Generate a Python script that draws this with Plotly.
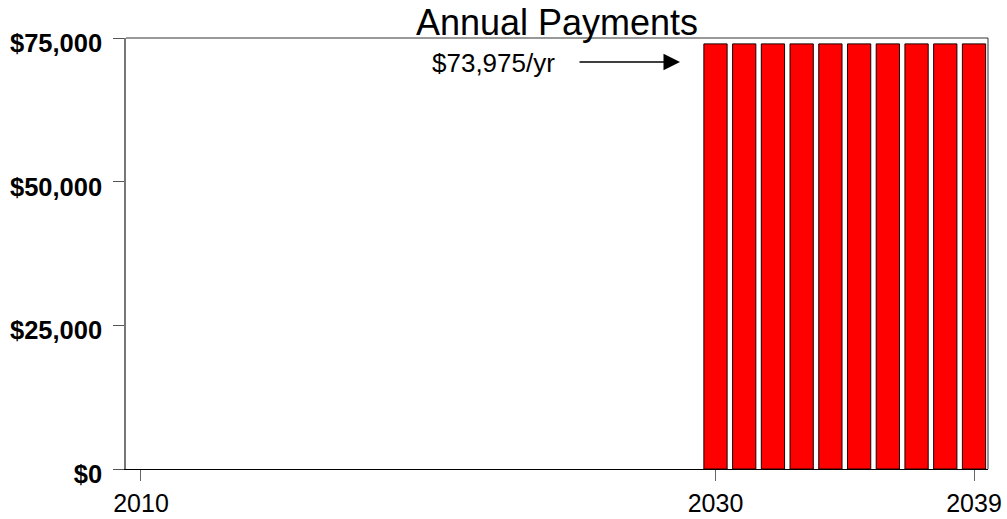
import plotly.graph_objects as go

# Payment schedule
years = [2030, 2031, 2032, 2033, 2034, 2035, 2036, 2037, 2038, 2039]
payments = [73975] * len(years)

x_tick_vals = [2010, 2030, 2039]
x_tick_text = ["2010", "2030", "2039"]
y_tick_vals = [0, 25000, 50000, 75000]
y_tick_text = ["$0", "$25,000", "$50,000", "$75,000"]

chart_title = "Annual Payments"
payment_label = "$73,975/yr"

FONT = "Liberation Sans, Arial, sans-serif"

fig = go.Figure()
fig.add_trace(go.Bar(
    x=years,
    y=payments,
    width=0.81,
    marker=dict(color="#ff0000", line=dict(color="#1a0000", width=1)),
    hoverinfo="x+y",
))

fig.update_layout(
    width=1007,
    height=519,
    margin=dict(l=126, r=19, t=38, b=50),
    paper_bgcolor="white",
    plot_bgcolor="white",
    showlegend=False,
    font=dict(family=FONT, color="black"),
    title=dict(
        text=chart_title,
        font=dict(family=FONT, size=36, color="black"),
        x=0.5, xref="paper", xanchor="center",
        y=1 - 22 / 519, yref="container", yanchor="middle",
    ),
    xaxis=dict(
        range=[2009.478, 2039.487],
        tickvals=x_tick_vals,
        ticktext=x_tick_text,
        ticks="outside",
        ticklen=11,
        tickwidth=1,
        tickcolor="#666666",
        tickfont=dict(family=FONT, size=25, color="black"),
        ticklabelstandoff=1,
        automargin=False,
        showline=True,
        linecolor="black",
        linewidth=1,
        showgrid=False,
        zeroline=False,
    ),
    yaxis=dict(
        range=[0, 75000],
        tickvals=y_tick_vals,
        ticktext=y_tick_text,
        ticks="outside",
        ticklen=11,
        tickwidth=1,
        tickcolor="#555555",
        tickfont=dict(family=FONT, size=25.5, color="black", weight="bold"),
        ticklabelshift=5,
        ticklabelstandoff=6,
        automargin=False,
        showline=True,
        linecolor="#777777",
        linewidth=1.5,
        showgrid=False,
        zeroline=False,
    ),
    shapes=[
        # top and right edges of the plot frame
        dict(type="line", xref="paper", yref="paper", x0=0, x1=1, y0=1, y1=1,
             line=dict(color="#777777", width=1.5)),
        dict(type="line", xref="paper", yref="paper", x0=1, x1=1, y0=0, y1=1,
             line=dict(color="#333333", width=1)),
    ],
    annotations=[
        dict(
            text=payment_label,
            xref="paper", yref="paper",
            x=(493 - 126) / 862, y=1 - (63 - 38) / 431,
            xanchor="center", yanchor="middle",
            showarrow=False,
            font=dict(family=FONT, size=26, color="black"),
        ),
        dict(
            text="",
            xref="paper", yref="paper",
            x=(680 - 126) / 862, y=1 - (62 - 38) / 431,
            ax=-102, ay=0,
            showarrow=True,
            arrowhead=2,
            arrowsize=2.2,
            arrowwidth=1.5,
            arrowcolor="black",
        ),
    ],
)

fig.write_html("out.html")
